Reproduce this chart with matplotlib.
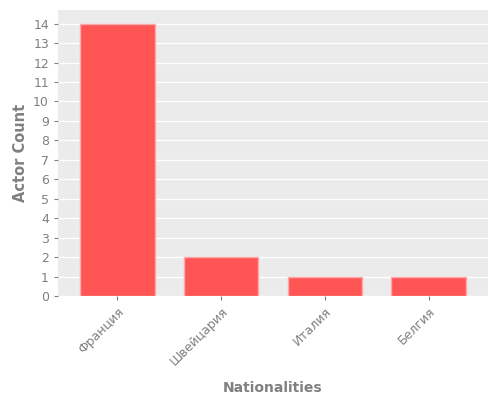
import matplotlib
matplotlib.use("Agg")
import matplotlib.pyplot as plt

categories = ["Франция", "Швейцария", "Италия", "Белгия"]
values = [14, 2, 1, 1]

plt.style.use("ggplot")
fig = plt.figure(figsize=(5, 4), dpi=100)
ax = fig.add_axes([58/500, 1-296/400, 430/500, 286/400])
ax.bar(range(len(values)), values, width=0.72, color="#FF5555",
       edgecolor="#FFAAAA", linewidth=1, zorder=3)
ax.set_xlim(-0.57, 3.57)
ax.set_ylim(0, 14.7)
ax.set_yticks(range(0, 15))
ax.set_xticks(range(len(values)))
ax.set_xticklabels(categories, rotation=45, ha="right", rotation_mode="anchor")
ax.tick_params(colors="#808080", labelsize=9, length=3)
ax.grid(False)
ax.yaxis.grid(True, color="white", linewidth=1)
ax.set_axisbelow(True)
ax.set_facecolor("#EBEBEB")
ax.set_xlabel("Nationalities", fontsize=10, fontweight="bold", color="#808080", labelpad=9)
ax.set_ylabel("Actor Count", fontsize=10.5, fontweight="bold", color="#808080", labelpad=4)
for s in ax.spines.values():
    s.set_visible(False)
fig.savefig("out.png", dpi=100, facecolor="white")
